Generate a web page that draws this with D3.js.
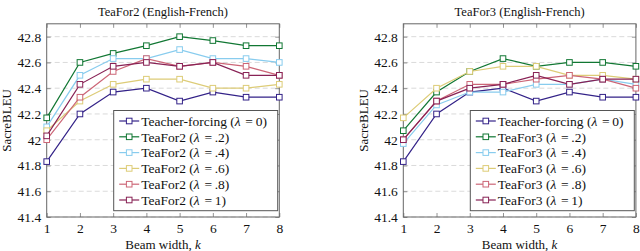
<!DOCTYPE html>
<html>
<head>
<meta charset="utf-8">
<script src="https://cdn.jsdelivr.net/npm/d3@7"></script>
<style>
  body { margin: 0; background: #fff; }
  svg text { font-family: 'Liberation Serif', 'Times New Roman', 'DejaVu Serif', serif; fill: #111; }
</style>
</head>
<body>
<svg id="chart" width="640" height="251"></svg>
<script>
// beam widths on the x axis
const beamWidths = [1, 2, 3, 4, 5, 6, 7, 8];
const yTicks = [41.4, 41.6, 41.8, 42, 42.2, 42.4, 42.6, 42.8];
const lambdaLabels = ['0', '.2', '.4', '.6', '.8', '1'];

// values
const teacherForcing = [41.83, 42.2, 42.37, 42.4, 42.3, 42.37, 42.33, 42.33];

const teafor2_02 = [42.17, 42.6, 42.67, 42.73, 42.8, 42.77, 42.73, 42.73];
const teafor2_04 = [42.1, 42.5, 42.63, 42.63, 42.7, 42.63, 42.63, 42.6];
const teafor2_06 = [42.07, 42.3, 42.43, 42.47, 42.47, 42.4, 42.4, 42.43];
const teafor2_08 = [42.0, 42.33, 42.53, 42.63, 42.57, 42.6, 42.57, 42.5];
const teafor2_1 = [42.03, 42.43, 42.57, 42.6, 42.57, 42.6, 42.5, 42.5];

const teafor3_02 = [42.07, 42.37, 42.53, 42.63, 42.57, 42.6, 42.6, 42.57];
const teafor3_04 = [41.97, 42.27, 42.37, 42.37, 42.43, 42.43, 42.47, 42.43];
const teafor3_06 = [42.17, 42.4, 42.53, 42.57, 42.57, 42.5, 42.5, 42.47];
const teafor3_08 = [42.0, 42.3, 42.43, 42.43, 42.47, 42.5, 42.47, 42.4];
const teafor3_1 = [42.0, 42.3, 42.4, 42.43, 42.5, 42.43, 42.47, 42.47];

const COLORS = ['#332288', '#117733', '#88ccee', '#ddcc77', '#cc6677', '#882255'];
const FONT = "'Liberation Serif', 'Times New Roman', serif";

const svg = d3.select('#chart');

function drawPanel(left, title, name, seriesList) {
    const right = left + 232.6;
    const top = 23.8;
    const bottom = 217;

    const x = d3.scaleLinear().domain([1, 8]).range([left, right]);
    const y = d3.scaleLinear().domain([41.4, 42.9]).range([bottom, top]);

    const g = svg.append('g');

    // dashed grid
    g.append('g').selectAll('line').data(yTicks).enter().append('line')
        .attr('x1', left).attr('x2', right)
        .attr('y1', (d) => y(d)).attr('y2', (d) => y(d))
        .attr('stroke', '#d0d0d0').attr('stroke-width', 0.8)
        .attr('stroke-dasharray', '5,3');

    // axes, ticks pointing inward
    const xAxis = g.append('g').attr('transform', 'translate(0,' + bottom + ')')
        .call(d3.axisBottom(x).tickValues(beamWidths).tickFormat(d3.format('d')).tickSizeInner(-4).tickSizeOuter(0).tickPadding(6));
    const xTop = g.append('g').attr('transform', 'translate(0,' + top + ')')
        .call(d3.axisTop(x).tickValues(beamWidths).tickFormat('').tickSizeInner(-4).tickSizeOuter(0));
    const yAxis = g.append('g').attr('transform', 'translate(' + left + ',0)')
        .call(d3.axisLeft(y).tickValues(yTicks).tickFormat((d) => d3.format('')(+d.toFixed(1))).tickSizeInner(-4).tickSizeOuter(0).tickPadding(5.5));
    const yRight = g.append('g').attr('transform', 'translate(' + right + ',0)')
        .call(d3.axisRight(y).tickValues(yTicks).tickFormat('').tickSizeInner(-4).tickSizeOuter(0));

    [xAxis, xTop, yAxis, yRight].forEach((a) => {
        a.select('.domain').remove();
        a.attr('font-family', FONT);
        a.selectAll('.tick line').attr('stroke', '#777').attr('stroke-width', 0.8);
        a.selectAll('.tick text').style('font-size', '13.5px')
            .style('font-family', FONT).attr('fill', '#111');
    });

    g.append('rect')
        .attr('x', left).attr('y', top)
        .attr('width', right - left).attr('height', bottom - top)
        .attr('fill', 'none').attr('stroke', '#666').attr('stroke-width', 1);

    // series
    const line = d3.line().x((d, i) => x(beamWidths[i])).y((d) => y(d));
    seriesList.forEach((vals, si) => {
        const s = g.append('g');
        s.append('path').datum(vals)
            .attr('d', line)
            .attr('fill', 'none')
            .attr('stroke', COLORS[si]).attr('stroke-width', 1.2);
        s.selectAll('rect').data(vals).enter().append('rect')
            .attr('x', (d, i) => x(beamWidths[i]) - 2.8)
            .attr('y', (d) => y(d) - 2.8)
            .attr('width', 5.6).attr('height', 5.6)
            .attr('fill', '#fff')
            .attr('stroke', COLORS[si]).attr('stroke-width', 1);
    });

    // legend
    const lgRight = right - 1.6;
    const lgLeft = lgRight - 164;
    const lgTop = 110.5;
    const lg = g.append('g');
    lg.append('rect')
        .attr('x', lgLeft).attr('y', lgTop)
        .attr('width', lgRight - lgLeft).attr('height', 100.2)
        .attr('fill', '#fff').attr('stroke', '#555').attr('stroke-width', 1);

    seriesList.forEach((vals, si) => {
        const ly = 121 + si * 15.8;
        const lx = lgLeft + 5.5;
        lg.append('line')
            .attr('x1', lx).attr('x2', lx + 20)
            .attr('y1', ly).attr('y2', ly)
            .attr('stroke', COLORS[si]).attr('stroke-width', 1.2);
        lg.append('rect')
            .attr('x', lx + 10 - 2.8).attr('y', ly - 2.8)
            .attr('width', 5.6).attr('height', 5.6)
            .attr('fill', '#fff').attr('stroke', COLORS[si]).attr('stroke-width', 1);
        const label = si === 0 ? 'Teacher-forcing' : name;
        const t = lg.append('text')
            .attr('x', lx + 22).attr('y', ly + 4.8)
            .style('font-size', '13.5px');
        t.append('tspan').text(label + ' (');
        t.append('tspan').style('font-style', 'italic').text('λ');
        t.append('tspan').text('\u2009=\u2009' + lambdaLabels[si] + ')').attr('dx', 2);
    });

    // titles
    g.append('text')
        .attr('x', (left + right) / 2).attr('y', 16)
        .attr('text-anchor', 'middle')
        .style('font-size', '12.5px')
        .text(title);

    const xl = g.append('text')
        .attr('x', (left + right) / 2).attr('y', 248.5)
        .attr('text-anchor', 'middle')
        .style('font-size', '13px');
    xl.append('tspan').text('Beam width, ');
    xl.append('tspan').style('font-style', 'italic').text('k');

    g.append('text')
        .attr('transform', 'translate(' + (left - 35.5) + ',' + ((top + bottom) / 2) + ') rotate(-90)')
        .attr('text-anchor', 'middle')
        .style('font-size', '13px')
        .text('SacreBLEU');
}

drawPanel(46.7, 'TeaFor2 (English-French)', 'TeaFor2',
    [teacherForcing, teafor2_02, teafor2_04, teafor2_06, teafor2_08, teafor2_1]);
drawPanel(403.3, 'TeaFor3 (English-French)', 'TeaFor3',
    [teacherForcing, teafor3_02, teafor3_04, teafor3_06, teafor3_08, teafor3_1]);
</script>
</body>
</html>
